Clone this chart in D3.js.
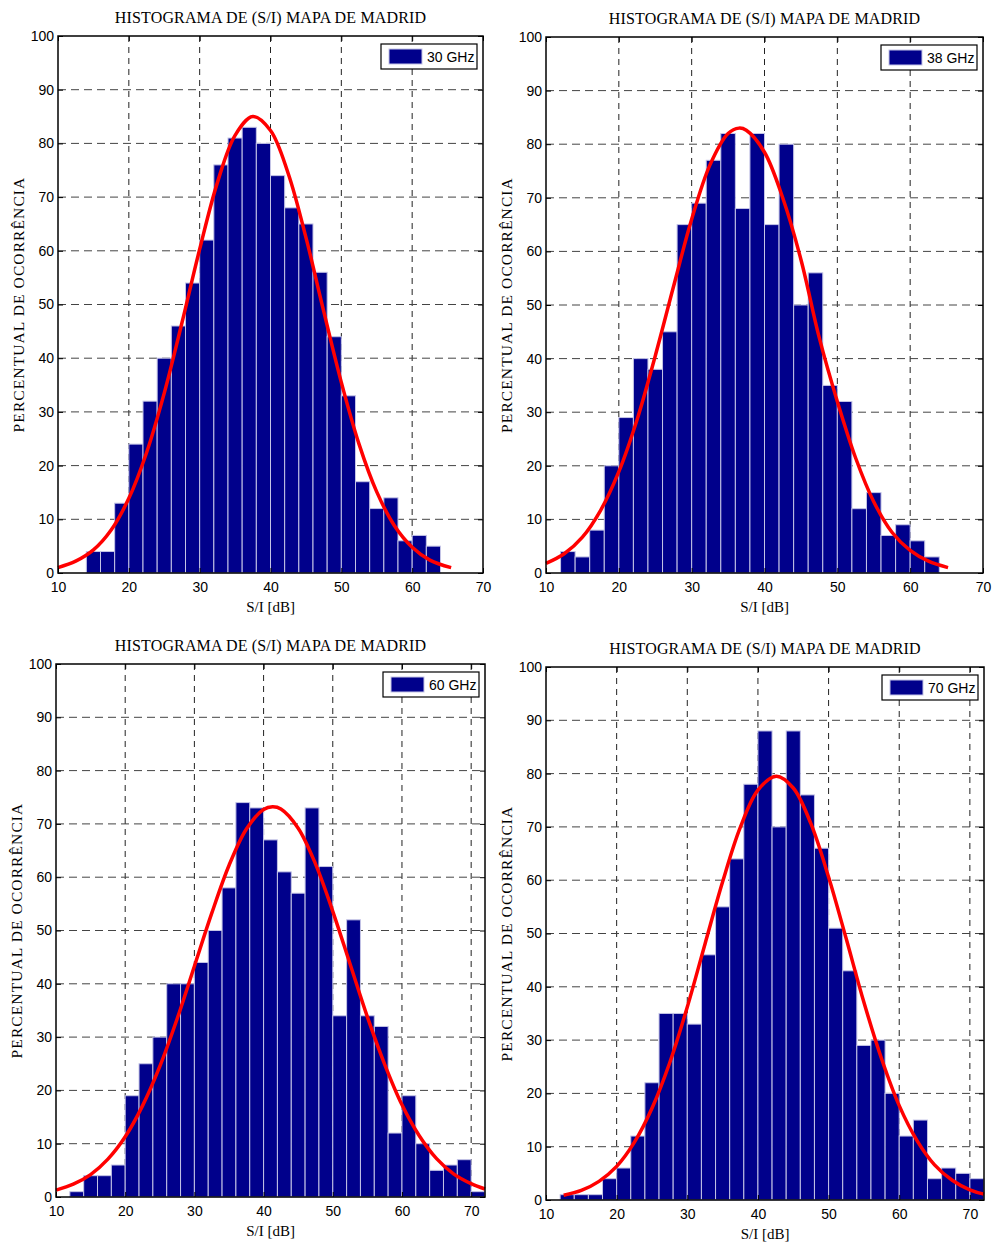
<!DOCTYPE html>
<html>
<head>
<meta charset="utf-8">
<script src="https://cdn.jsdelivr.net/npm/d3@7"></script>
<style>
  body { margin: 0; background: #fff; }
  .tick-label { font-family: "Liberation Sans", Arial, sans-serif; font-size: 14px; fill: #000; }
  .serif { font-family: "Liberation Serif", "Times New Roman", serif; fill: #000; }
</style>
</head>
<body>
<div id="chartArea"></div>
<script>
// Histogramme (Klassenanfang in dB, Breite 2 dB) und Häufigkeiten in %
const bins30 = [14,16,18,20,22,24,26,28,30,32,34,36,38,40,42,44,46,48,50,52,54,56,58,60,62];
const counts30 = [4,4,13,24,32,40,46,54,62,76,81,83,80,74,68,65,56,44,33,17,12,14,6,7,5];

const bins38 = [12,14,16,18,20,22,24,26,28,30,32,34,36,38,40,42,44,46,48,50,52,54,56,58,60,62];
const counts38 = [4,3,8,20,29,40,38,45,65,69,77,82,68,82,65,80,50,56,35,32,12,15,7,9,6,3];

const bins60 = [12,14,16,18,20,22,24,26,28,30,32,34,36,38,40,42,44,46,48,50,52,54,56,58,60,62,64,66,68,70];
const counts60 = [1,4,4,6,19,25,30,40,40,44,50,58,74,73,67,61,57,73,62,34,52,34,32,12,19,10,5,6,7,1];

const bins70 = [12,14,16,18,20,22,24,26,28,30,32,34,36,38,40,42,44,46,48,50,52,54,56,58,60,62,64,66,68,70];
const counts70 = [1,1,1,4,6,12,22,35,35,33,46,55,64,78,88,70,88,76,66,51,43,29,30,20,12,15,4,6,5,4];

// Rote Kurven (Normalverteilung), Punkte
const curveX30 = [10,12.5,15,17.5,20,22.5,25,27.5,30,32.5,35,37.5,40,42.5,45,47.5,50,52.5,55,57.5,60,62.5,65.5];
const curveY30 = [1.0,2.2,4.3,8.0,13.9,22.4,33.5,46.6,60.3,72.7,81.5,85,82.4,74.4,62.5,48.8,35.5,24.0,15.1,8.8,4.8,2.4,1.0];

const curveX38 = [10,12.5,15,17.5,20,22.5,25,27.5,30,32.5,35,36.5,37.5,40,42.5,45,47.5,50,52.5,55,57.5,60,62.5,65.2];
const curveY38 = [1.8,3.6,6.7,11.7,18.9,28.6,40.5,53.4,66,76.1,82,83,82.6,78.5,70,58.5,44,32,21.5,13.3,7.6,4.2,2.2,1.0];

const curveX60 = [10,12.5,15,17.5,20,22.5,25,27.5,30,32.5,35,37.5,40,41.3,42.5,45,47.5,50,52.5,55,57.5,60,62.5,65,67.5,70,72];
const curveY60 = [1.3,2.4,4.2,7.1,11.3,17.1,24.5,33.4,43.3,53.2,62.2,69,72.7,73.2,72.8,69.2,62.5,53.6,43.7,33.8,24.9,17.3,11.5,7.2,4.3,2.5,1.5];

const curveX70 = [12.5,15,17.5,20,22.5,25,27.5,30,32.5,35,37.5,40,42.6,45,47.5,50,52.5,55,57.5,60,62.5,65,67.5,70,72];
const curveY70 = [0.9,1.8,3.5,6.3,10.8,17.2,25.7,36.2,48,59.7,69.9,76.9,79.5,77.3,70.6,60.6,49,37.1,26.5,17.7,11.2,6.6,3.7,1.9,1.1];

const titleText = "HISTOGRAMA DE (S/I) MAPA DE MADRID";
const yLabelText = "PERCENTUAL DE OCORRÊNCIA";
const xLabelText = "S/I [dB]";
const yTicks = [0,10,20,30,40,50,60,70,80,90,100];
const xTicks = [10,20,30,40,50,60,70];

// Layout der vier Teilbilder
const panels = [
  {name: "30 GHz", left: 58,  top: 36,  right: 483, bottom: 573,  xMax: 70, bins: bins30, counts: counts30, cx: curveX30, cy: curveY30},
  {name: "38 GHz", left: 546, top: 37,  right: 983, bottom: 573,  xMax: 70, bins: bins38, counts: counts38, cx: curveX38, cy: curveY38},
  {name: "60 GHz", left: 56,  top: 664, right: 485, bottom: 1197, xMax: 72, bins: bins60, counts: counts60, cx: curveX60, cy: curveY60},
  {name: "70 GHz", left: 546, top: 667, right: 984, bottom: 1200, xMax: 72, bins: bins70, counts: counts70, cx: curveX70, cy: curveY70}
];

const svg = d3.select("#chartArea").append("svg")
    .attr("width", 992)
    .attr("height", 1246);

panels.forEach(p => {
    const x = d3.scaleLinear().domain([10, p.xMax]).range([p.left, p.right]);
    const y = d3.scaleLinear().domain([0, 100]).range([p.bottom, p.top]);
    const g = svg.append("g");

    // Rasterlinien
    g.selectAll(".x-grid")
        .data(xTicks.filter(d => d > 10 && d < p.xMax))
        .enter().append("line")
        .attr("x1", d => x(d)).attr("x2", d => x(d))
        .attr("y1", p.top).attr("y2", p.bottom)
        .attr("stroke", "#222")
        .attr("stroke-dasharray", "6,5");

    g.selectAll(".y-grid")
        .data(yTicks.filter(d => d > 0 && d < 100))
        .enter().append("line")
        .attr("x1", p.left).attr("x2", p.right)
        .attr("y1", d => y(d)).attr("y2", d => y(d))
        .attr("stroke", "#444")
        .attr("stroke-dasharray", "8,5");

    // Balken
    g.selectAll("rect")
        .data(p.bins.map((b, i) => ({b, v: p.counts[i]})))
        .enter().append("rect")
        .attr("x", d => x(d.b))
        .attr("width", d => x(d.b + 2) - x(d.b))
        .attr("y", d => y(d.v))
        .attr("height", d => y(0) - y(d.v))
        .attr("fill", "#00008b")
        .attr("stroke", "#c4c4e6")
        .attr("stroke-width", 1);

    // Kurve
    const line = d3.line()
        .x(d => x(d[0]))
        .y(d => y(d[1]))
        .curve(d3.curveCatmullRom.alpha(0.5));

    g.append("path")
        .datum(p.cx.map((v, i) => [v, p.cy[i]]))
        .attr("d", line)
        .attr("fill", "none")
        .attr("stroke", "#ff0000")
        .attr("stroke-width", 3.5);

    // Rahmen
    g.append("rect")
        .attr("x", p.left).attr("y", p.top)
        .attr("width", p.right - p.left).attr("height", p.bottom - p.top)
        .attr("fill", "none")
        .attr("stroke", "#000")
        .attr("stroke-width", 1.5);

    // Achsen (Ticks nach innen)
    const axB = g.append("g").attr("transform", `translate(0,${p.bottom})`)
        .call(d3.axisBottom(x).tickValues(xTicks).tickSizeInner(-5).tickSizeOuter(0).tickPadding(9));
    const axL = g.append("g").attr("transform", `translate(${p.left},0)`)
        .call(d3.axisLeft(y).tickValues(yTicks).tickSizeInner(-5).tickSizeOuter(0).tickPadding(4));
    g.append("g").attr("transform", `translate(0,${p.top})`)
        .call(d3.axisTop(x).tickValues(xTicks).tickSizeInner(-5).tickSizeOuter(0).tickFormat(""));
    g.append("g").attr("transform", `translate(${p.right},0)`)
        .call(d3.axisRight(y).tickValues(yTicks).tickSizeInner(-5).tickSizeOuter(0).tickFormat(""));

    g.selectAll(".domain").remove();
    [axB, axL].forEach(a => a.selectAll("text")
        .attr("class", "tick-label")
        .attr("font-family", null).attr("font-size", null));
    g.selectAll(".tick line").attr("stroke", "#000");

    // Titel und Achsenbeschriftung
    g.append("text")
        .attr("class", "serif")
        .attr("x", (p.left + p.right) / 2)
        .attr("y", p.top - 13)
        .attr("text-anchor", "middle")
        .style("font-size", "16px")
        .style("letter-spacing", "0.15px")
        .text(titleText);

    g.append("text")
        .attr("class", "serif")
        .attr("x", (p.left + p.right) / 2)
        .attr("y", p.bottom + 39)
        .attr("text-anchor", "middle")
        .style("font-size", "15px")
        .text(xLabelText);

    g.append("text")
        .attr("class", "serif")
        .attr("transform", `translate(${p.left - 34},${(p.top + p.bottom) / 2}) rotate(-90)`)
        .attr("text-anchor", "middle")
        .style("font-size", "15.5px")
        .style("letter-spacing", "1.1px")
        .text(yLabelText);

    // Legende
    const lg = g.append("g").attr("transform", `translate(${p.right - 102},${p.top + 8})`);
    lg.append("rect")
        .attr("width", 96).attr("height", 25)
        .attr("fill", "#fff").attr("stroke", "#000").attr("stroke-width", 1.2);
    lg.append("rect")
        .attr("x", 8).attr("y", 5).attr("width", 33).attr("height", 15)
        .attr("fill", "#00008b").attr("stroke", "#c4c4e6");
    lg.append("text")
        .attr("class", "tick-label")
        .attr("x", 46).attr("y", 18)
        .text(p.name);
});
</script>
</body>
</html>
